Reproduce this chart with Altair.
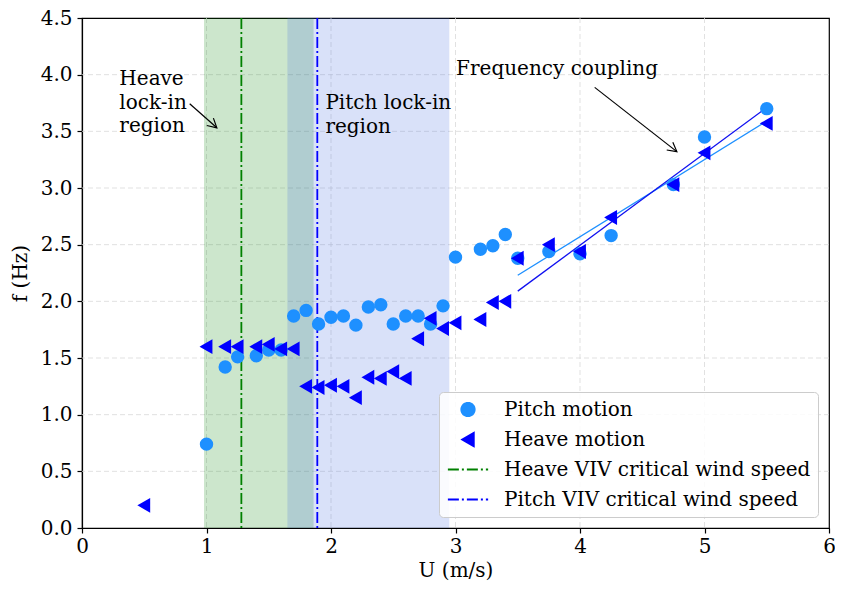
import math
import altair as alt
import pandas as pd

# ---------------- data ----------------
pitch_u = [1.0, 1.15, 1.25, 1.4, 1.5, 1.6, 1.7, 1.8, 1.9, 2.0, 2.1, 2.2, 2.3, 2.4, 2.5,
           2.6, 2.7, 2.8, 2.9, 3.0, 3.2, 3.3, 3.4, 3.5, 3.75, 4.0, 4.25, 4.75, 5.0, 5.5]
pitch_f = [0.74, 1.42, 1.51, 1.52, 1.57, 1.57, 1.87, 1.92, 1.80, 1.86, 1.87, 1.79, 1.95, 1.97, 1.80,
           1.87, 1.87, 1.80, 1.96, 2.39, 2.46, 2.49, 2.59, 2.38, 2.44, 2.42, 2.58, 3.03, 3.45, 3.70]

heave_u = [0.5, 1.0, 1.15, 1.25, 1.4, 1.5, 1.6, 1.7, 1.8, 1.9, 2.0, 2.1, 2.2, 2.3, 2.4, 2.5,
           2.6, 2.7, 2.8, 2.9, 3.0, 3.2, 3.3, 3.4, 3.5, 3.75, 4.0, 4.25, 4.75, 5.0, 5.5]
heave_f = [0.20, 1.60, 1.60, 1.60, 1.60, 1.62, 1.58, 1.58, 1.25, 1.24, 1.26, 1.25, 1.15, 1.33, 1.32, 1.38,
           1.32, 1.67, 1.85, 1.76, 1.81, 1.84, 1.99, 2.00, 2.38, 2.50, 2.44, 2.74, 3.03, 3.31, 3.57]

# linear fits (end points)
fit_name = ["pitch fit", "pitch fit", "heave fit", "heave fit"]
fit_u = [3.5, 5.5, 3.5, 5.5]
fit_f = [2.23, 3.59, 2.09, 3.71]
fit_color = ["#1E90FF", "#1E90FF", "#1010F0", "#1010F0"]

# lock-in regions
span_start = [0.98, 1.65]
span_end = [1.86, 2.95]
span_color = ["green", "royalblue"]

# critical wind speeds
crit_u = [1.28, 1.89]
crit_name = ["Heave VIV critical wind speed", "Pitch VIV critical wind speed"]

series_names = ["Pitch motion", "Heave motion",
                "Heave VIV critical wind speed", "Pitch VIV critical wind speed"]
series_colors = ["#1E90FF", "#0000FF", "green", "blue"]
series_shapes = ["circle", "triangle-left", "M-3,0L3,0", "M-3,0L3,0"]
series_dash = [[1, 0], [1, 0], [11, 3, 2, 3], [11, 3, 2, 3]]

# annotations (x, y of the first text line)
ann_text = ["Heave\nlock-in\nregion", "Pitch lock-in\nregion", "Frequency coupling"]
ann_x = [0.30, 1.955, 3.005]
ann_y = [3.96, 3.75, 4.05]

arrow_x0 = [0.865, 4.118]
arrow_y0 = [3.744, 3.888]
arrow_x1 = [1.083, 4.778]
arrow_y1 = [3.531, 3.321]

x_ticks = [0, 1, 2, 3, 4, 5, 6]
y_ticks = [0.0, 0.5, 1.0, 1.5, 2.0, 2.5, 3.0, 3.5, 4.0, 4.5]

# ---------------- layout ----------------
W, H = 747, 510
FONT = "DejaVu Serif"
FS = 20

xs = alt.Scale(domain=[0, 6], nice=False, zero=False)
ys = alt.Scale(domain=[0, 4.5], nice=False, zero=False)

pts = pd.DataFrame({
    "u": pitch_u + heave_u,
    "f": pitch_f + heave_f,
    "series": ["Pitch motion"] * len(pitch_u) + ["Heave motion"] * len(heave_u),
})
spans = pd.DataFrame({"start": span_start, "end": span_end, "color": span_color})
crit = pd.DataFrame({"u": crit_u, "series": crit_name})
fits = pd.DataFrame({"name": fit_name, "u": fit_u, "f": fit_f, "color": fit_color})
ann = pd.DataFrame({"text": ann_text, "x": ann_x, "y": ann_y})
grid_x = pd.DataFrame({"u": x_ticks[1:-1]})
grid_y = pd.DataFrame({"f": y_ticks[1:-1]})

sx, sy = W / 6.0, H / 4.5
arrows = pd.DataFrame({"x0": arrow_x0, "y0": arrow_y0, "x1": arrow_x1, "y1": arrow_y1})
arrows["angle"] = [
    math.degrees(math.atan2((a - b) * sy, (d - c) * sx))
    for a, b, c, d in zip(arrow_y0, arrow_y1, arrow_x0, arrow_x1)
]

xaxis = alt.Axis(values=x_ticks, format="d", title="U (m/s)", grid=False, labelFlush=False)
yaxis = alt.Axis(values=y_ticks, format=".1f", title="f (Hz)", grid=False, labelFlush=False)


def legend():
    return alt.Legend(
        title=None,
        orient="bottom-right",
        offset=11,
        padding=7,
        cornerRadius=4,
        strokeColor="#cccccc",
        fillColor="rgba(255,255,255,0.85)",
        labelFont=FONT,
        labelFontSize=FS,
        labelColor="black",
        labelLimit=500,
        labelOffset=26,
        symbolSize=180,
        symbolOffset=12,
        symbolStrokeWidth=1.8,
        symbolFillColor="transparent",
        symbolStrokeColor="transparent",
        symbolOpacity=1,
        clipHeight=21,
        rowPadding=9,
        columns=1,
    )


fill_scale = alt.Scale(domain=series_names, range=series_colors)
stroke_scale = alt.Scale(domain=series_names, range=series_colors)
shape_scale = alt.Scale(domain=series_names, range=series_shapes)
dash_scale = alt.Scale(domain=series_names, range=series_dash)

gridx_layer = alt.Chart(grid_x).mark_rule(color="#d9d9d9", strokeWidth=0.8, strokeDash=[5, 3]).encode(
    x=alt.X("u:Q", scale=xs, axis=xaxis)
)
gridy_layer = alt.Chart(grid_y).mark_rule(color="#d9d9d9", strokeWidth=0.8, strokeDash=[5, 3]).encode(
    y=alt.Y("f:Q", scale=ys, axis=yaxis)
)

span_layer = alt.Chart(spans).mark_rect(fillOpacity=0.2, strokeWidth=0).encode(
    x=alt.X("start:Q", scale=xs),
    x2="end:Q",
    y=alt.datum(0, scale=ys),
    y2=alt.datum(4.5),
    fill=alt.Fill("color:N", scale=None),
)

crit_layer = alt.Chart(crit).mark_rule(strokeWidth=1.8).encode(
    x=alt.X("u:Q", scale=xs),
    stroke=alt.Stroke("series:N", scale=stroke_scale, legend=legend()),
    strokeDash=alt.StrokeDash("series:N", scale=dash_scale, legend=legend()),
)

fit_layer = alt.Chart(fits).mark_line(strokeWidth=1.3).encode(
    x=alt.X("u:Q", scale=xs),
    y=alt.Y("f:Q", scale=ys),
    detail="name:N",
    color=alt.Color("color:N", scale=None),
)

point_layer = alt.Chart(pts).mark_point(filled=True, opacity=1, size=130).encode(
    x=alt.X("u:Q", scale=xs),
    y=alt.Y("f:Q", scale=ys),
    fill=alt.Fill("series:N", scale=fill_scale, legend=legend()),
    stroke=alt.Stroke("series:N", scale=stroke_scale, legend=legend()),
    shape=alt.Shape("series:N", scale=shape_scale, legend=legend()),
)

shaft_layer = alt.Chart(arrows).mark_rule(color="black", strokeWidth=1.2).encode(
    x=alt.X("x0:Q", scale=xs), y=alt.Y("y0:Q", scale=ys), x2="x1:Q", y2="y1:Q"
)
head_layer = alt.Chart(arrows).mark_point(
    shape="M-1,-0.55L0,0L-1,0.55", filled=False, color="black", strokeWidth=1.2, size=324, opacity=1
).encode(
    x=alt.X("x1:Q", scale=xs), y=alt.Y("y1:Q", scale=ys), angle=alt.Angle("angle:Q", scale=None)
)

text_layer = alt.Chart(ann).mark_text(
    align="left", baseline="middle", font=FONT, fontSize=FS, lineBreak="\n", lineHeight=23.5, color="black"
).encode(
    x=alt.X("x:Q", scale=xs), y=alt.Y("y:Q", scale=ys), text="text:N"
)

chart = alt.layer(
    gridx_layer, gridy_layer, span_layer, crit_layer, fit_layer, point_layer,
    shaft_layer, head_layer, text_layer
).properties(
    width=W, height=H,
    autosize=alt.AutoSizeParams(type="none"),
    padding={"left": 74, "top": 10, "right": 6, "bottom": 53},
).configure_view(
    stroke="black", strokeWidth=1.2
).configure_axis(
    labelFont=FONT, labelFontSize=FS, labelColor="black",
    titleFont=FONT, titleFontSize=FS, titleFontWeight="normal", titleColor="black",
    domainColor="black", domainWidth=1.2, tickColor="black", tickSize=5, tickWidth=1.2,
).configure_axisX(titlePadding=4, labelPadding=3).configure_axisY(titlePadding=10, labelPadding=5)

chart.save("out.html", embed_options={"renderer": "svg", "actions": False})
